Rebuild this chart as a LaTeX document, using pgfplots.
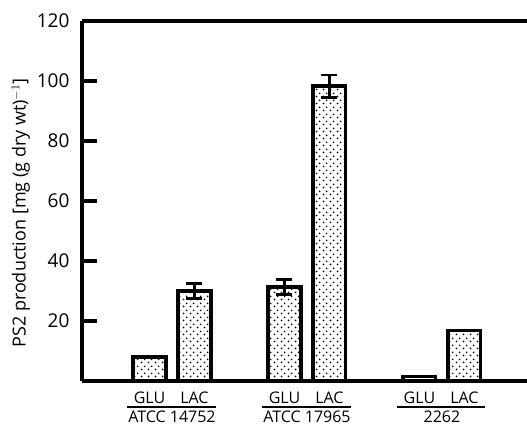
\documentclass[border=0pt]{standalone}
\usepackage{pgfplots}
\pgfplotsset{compat=1.18}
\usepackage{fontspec}
\setmainfont{Open Sans}
\usetikzlibrary{patterns}
\pgfdeclarepatternformonly{mydots}{\pgfpointorigin}{\pgfpoint{7pt}{7pt}}{\pgfpoint{7pt}{7pt}}{%
  \pgfpathcircle{\pgfpoint{1.75pt}{1.75pt}}{1.1pt}%
  \pgfpathcircle{\pgfpoint{5.25pt}{5.25pt}}{1.1pt}%
  \pgfusepath{fill}}
\newcommand\tfont{\fontsize{19pt}{20pt}\selectfont}
\newcommand\cfont{\fontsize{16pt}{18pt}\selectfont}
\newcommand\lfont{\fontsize{18pt}{20pt}\selectfont}
\begin{document}
\begin{tikzpicture}
\begin{axis}[
  scale only axis, width=445pt, height=360pt,
  xmin=-1.5, xmax=8.39, ymin=0, ymax=120,
  axis x line=box, axis y line=left,
  axis line style={line width=3.3pt, -},
  ytick={20,40,60,80,100,120},
  y tick style={line width=3.3pt, black},
  tick align=inside, major tick length=15pt,
  xtick={0,1,3,4,6,7},
  xticklabels={GLU,LAC,GLU,LAC,GLU,LAC},
  x tick style={draw=none},
  every x tick label/.append style={font=\cfont, yshift=-7pt},
  every y tick label/.append style={font=\tfont, xshift=-9pt},
  /pgf/number format/assume math mode=true,
  ylabel={PS2 production [mg (g dry wt)$^{-1}$]},
  every axis y label/.append style={font=\lfont, yshift=0pt, xshift=-12pt},
  clip=false,
]
\addplot[ybar, bar width=0.73, line width=3.2pt, draw=black, pattern=mydots,
  error bars/.cd, y dir=both, y explicit,
  error bar style={line width=2.7pt},
  error mark options={rotate=90, mark size=8pt, line width=2.7pt}]
  coordinates {
  (0,8) +- (0,0)
  (1,30) +- (0,2.5)
  (3,31.3) +- (0,2.5)
  (4,98.3) +- (0,3.7)
  (6,1.5) +- (0,0)
  (7,16.7) +- (0,0)
  };
\draw[line width=1.1pt] ([yshift=-26pt]axis cs:-0.5,0) -- ([yshift=-26pt]axis cs:1.48,0);
\draw[line width=1.1pt] ([yshift=-26pt]axis cs:2.5,0) -- ([yshift=-26pt]axis cs:4.48,0);
\draw[line width=1.1pt] ([yshift=-26pt]axis cs:5.5,0) -- ([yshift=-26pt]axis cs:7.45,0);
\node[font=\cfont, anchor=north, inner sep=1pt] at ([yshift=-29pt]axis cs:0.5,0) {ATCC 14752};
\node[font=\cfont, anchor=north, inner sep=1pt] at ([yshift=-29pt]axis cs:3.5,0) {ATCC 17965};
\node[font=\cfont, anchor=north, inner sep=1pt] at ([yshift=-29pt]axis cs:6.5,0) {2262};
\end{axis}
\pgfresetboundingbox
\path (current axis.south west) ++(-82pt,-46pt) coordinate (bl);
\path (current axis.north east) ++(0pt,21pt) coordinate (tr);
\useasboundingbox (bl) rectangle (tr);
\end{tikzpicture}
\end{document}
